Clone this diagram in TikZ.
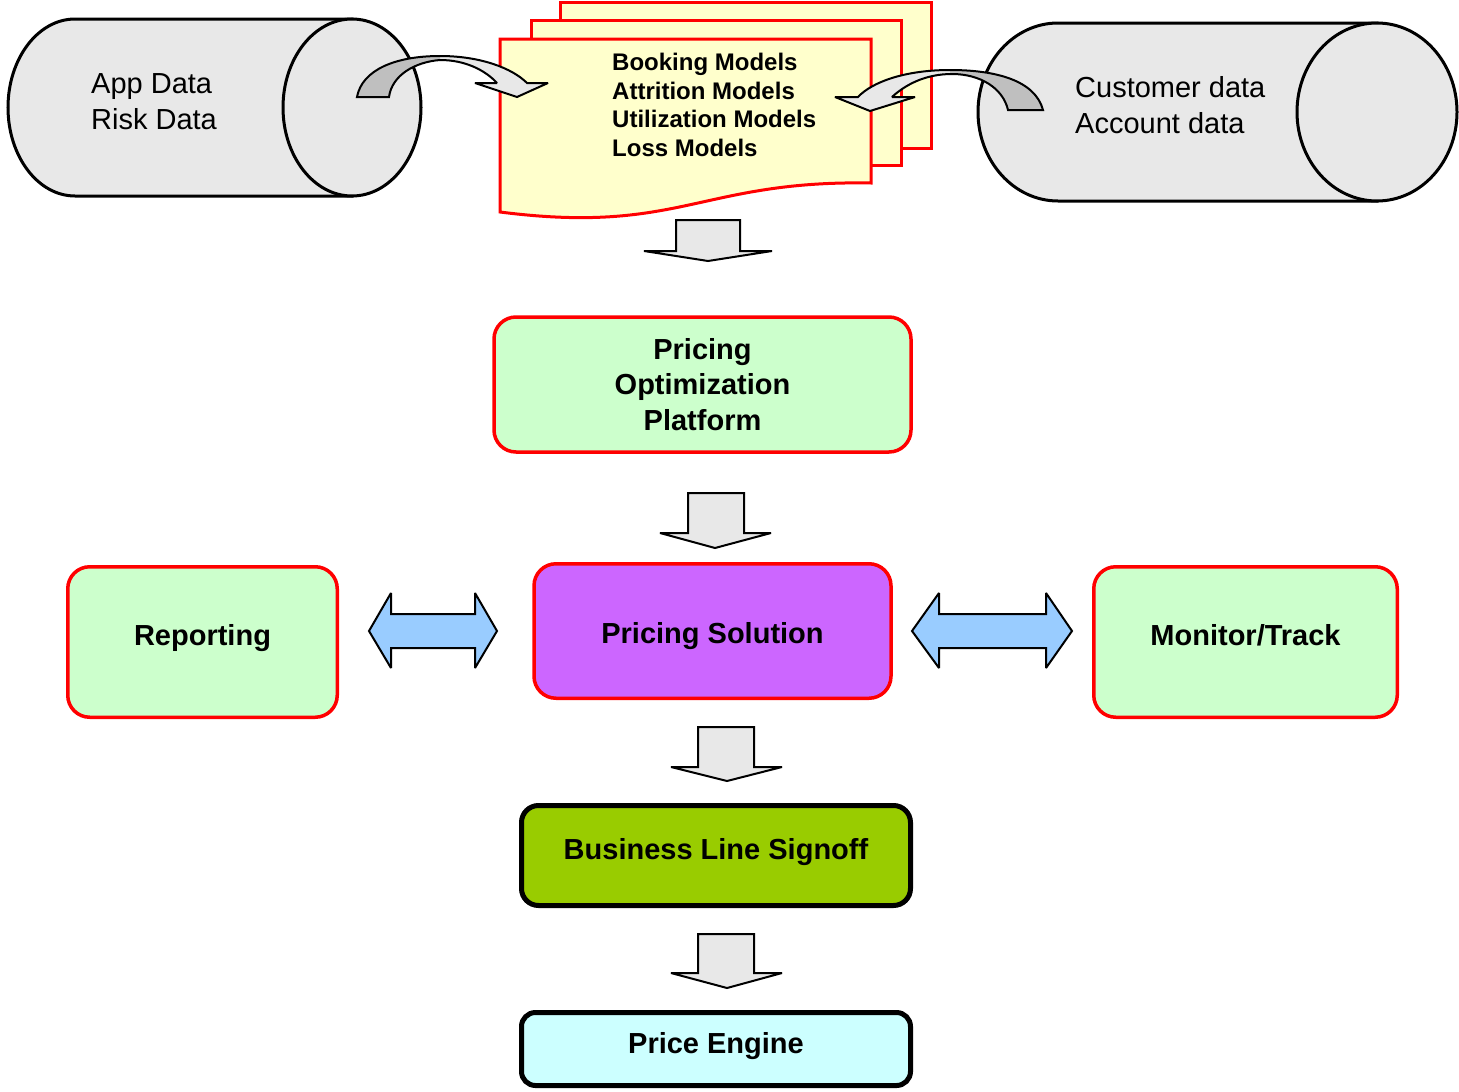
\documentclass[tikz,border=0pt]{standalone}
\usepackage{fontspec}
\setmainfont{Liberation Sans}
\definecolor{cylgray}{HTML}{E8E8E8}
\definecolor{arrowlight}{HTML}{E8E8E8}
\definecolor{arrowdark}{HTML}{BFBFBF}
\definecolor{docyellow}{HTML}{FFFFCC}
\definecolor{boxgreen}{HTML}{CCFFCC}
\definecolor{boxpurple}{HTML}{CC66FF}
\definecolor{boxolive}{HTML}{99CC00}
\definecolor{boxcyan}{HTML}{CCFFFF}
\definecolor{arrowblue}{HTML}{99CCFF}
\newcommand\bxfont{\fontsize{29}{35.5}\selectfont\bfseries}
\newcommand\docfont{\fontsize{24}{28.7}\selectfont\bfseries}
\newcommand\cylfont{\fontsize{29}{36}\selectfont}
\begin{document}
\begin{tikzpicture}[x=1pt,y=-1pt,
  cyl/.style={fill=cylgray,draw=black,line width=3pt},
  docsheet/.style={fill=docyellow,draw=red,line width=3pt,line join=miter},
  blockarrow/.style={fill=arrowlight,draw=black,line width=2pt,line join=miter,miter limit=2},
  dblarrow/.style={fill=arrowblue,draw=black,line width=2pt,line join=miter,miter limit=3},
  curvedge/.style={draw=black,line width=2pt,line join=miter,miter limit=2},
  redbox/.style={draw=red,line width=3.5pt,rounded corners=22pt,font=\bxfont,align=center,inner sep=0pt},
  blackbox/.style={draw=black,line width=5pt,rounded corners=17pt,font=\bxfont,align=center,inner sep=0pt},
  capshift/.style={text height=24pt,text depth=#1},
  plaintext/.style={inner sep=0pt,align=left,anchor=west}]
\useasboundingbox (0,0) rectangle (1459,1092);
% left cylinder
\draw[cyl] (352,19) -- (75,19) arc[start angle=-90,end angle=-270,x radius=67,y radius=88.5] -- (352,196) -- cycle;
\draw[cyl] (352,107.5) ellipse[x radius=69,y radius=88.5];
\node[plaintext,font=\cylfont] (appdata) at (91,102) {App Data\\Risk Data};
% right cylinder
\draw[cyl] (1377,23) -- (1058,23) arc[start angle=-90,end angle=-270,x radius=80,y radius=89] -- (1377,201) -- cycle;
\draw[cyl] (1377,112) ellipse[x radius=80,y radius=89];
\node[plaintext,font=\cylfont] (custdata) at (1075,105.5) {Customer data\\Account data};
% document stack
\draw[docsheet] (560,2) rectangle (931,148);
\draw[docsheet] (531,20) rectangle (901,165);
\draw[docsheet] (500,39) -- (871,39) -- (871,183) .. controls (700,180) and (680,235) .. (500,212) -- cycle;
\node[plaintext,font=\docfont] (models) at (612,105) {Booking Models\\Attrition Models\\Utilization Models\\Loss Models};
% left curved arrow
\fill[arrowlight] (357,97) .. controls (362,70) and (395,56) .. (440,56) .. controls (480,56) and (512,68) .. (527,83) -- (548,83) -- (517,97) -- (475,83) -- (497,83) .. controls (485,70) and (465,60) .. (440,60) .. controls (415,62) and (392,75) .. (389,97) -- cycle;
\begin{scope}
\clip (300,0) rectangle (440,130);
\fill[arrowdark] (357,97) .. controls (362,70) and (395,56) .. (440,56) .. controls (480,56) and (512,68) .. (527,83) -- (548,83) -- (517,97) -- (475,83) -- (497,83) .. controls (485,70) and (465,60) .. (440,60) .. controls (415,62) and (392,75) .. (389,97) -- cycle;
\end{scope}
\draw[curvedge] (357,97) .. controls (362,70) and (395,56) .. (440,56) .. controls (480,56) and (512,68) .. (527,83) -- (548,83) -- (517,97) -- (475,83) -- (497,83) .. controls (485,70) and (465,60) .. (440,60) .. controls (415,62) and (392,75) .. (389,97) -- cycle;
% right curved arrow
\fill[arrowlight] (1043,110) .. controls (1035,80) and (995,70) .. (950,70) .. controls (905,70) and (872,82) .. (858,97) -- (835,97) -- (870,111) -- (915,97) -- (892,97) .. controls (905,85) and (925,74) .. (952,74) .. controls (980,74) and (1003,88) .. (1008,110) -- cycle;
\begin{scope}
\clip (950,0) rectangle (1100,130);
\fill[arrowdark] (1043,110) .. controls (1035,80) and (995,70) .. (950,70) .. controls (905,70) and (872,82) .. (858,97) -- (835,97) -- (870,111) -- (915,97) -- (892,97) .. controls (905,85) and (925,74) .. (952,74) .. controls (980,74) and (1003,88) .. (1008,110) -- cycle;
\end{scope}
\draw[curvedge] (1043,110) .. controls (1035,80) and (995,70) .. (950,70) .. controls (905,70) and (872,82) .. (858,97) -- (835,97) -- (870,111) -- (915,97) -- (892,97) .. controls (905,85) and (925,74) .. (952,74) .. controls (980,74) and (1003,88) .. (1008,110) -- cycle;
% down arrows
\draw[blockarrow] (676,220) -- (740,220) -- (740,251) -- (772,251) -- (708,261) -- (644,251) -- (676,251) -- cycle;
\draw[blockarrow] (688,493) -- (744,493) -- (744,533) -- (771,533) -- (715,548) -- (660,533) -- (688,533) -- cycle;
\draw[blockarrow] (698,727) -- (754,727) -- (754,767) -- (782,767) -- (727,781) -- (671,767) -- (698,767) -- cycle;
\draw[blockarrow] (698,934) -- (754,934) -- (754,973) -- (782,973) -- (727,988) -- (671,973) -- (698,973) -- cycle;
% double arrows
\draw[dblarrow] (369,631) -- (391,593) -- (391,614) -- (475,614) -- (475,593) -- (497,631) -- (475,668) -- (475,648) -- (391,648) -- (391,668) -- cycle;
\draw[dblarrow] (912,631) -- (939,593) -- (939,614) -- (1046,614) -- (1046,593) -- (1072,631) -- (1046,668) -- (1046,648) -- (939,648) -- (939,668) -- cycle;
% boxes
\node[redbox,fill=boxgreen,minimum width=417pt,minimum height=135pt] (pop) at (702.5,384.5) {Pricing\\Optimization\\Platform};
\node[redbox,fill=boxgreen,minimum width=269.5pt,minimum height=150.5pt,capshift=17pt] (reporting) at (202.5,642) {Reporting};
\node[redbox,fill=boxpurple,minimum width=357pt,minimum height=134.5pt,capshift=0pt] (solution) at (712.5,631) {Pricing Solution};
\node[redbox,fill=boxgreen,minimum width=303.5pt,minimum height=150.5pt,capshift=17pt] (monitor) at (1245.5,642) {Monitor/Track};
\node[blackbox,fill=boxolive,minimum width=389pt,minimum height=100pt,capshift=16pt] (signoff) at (716,855.5) {Business Line Signoff};
\node[blackbox,fill=boxcyan,minimum width=389pt,minimum height=73pt,rounded corners=14pt,capshift=15pt] (engine) at (716,1049) {Price Engine};
\end{tikzpicture}
\end{document}
